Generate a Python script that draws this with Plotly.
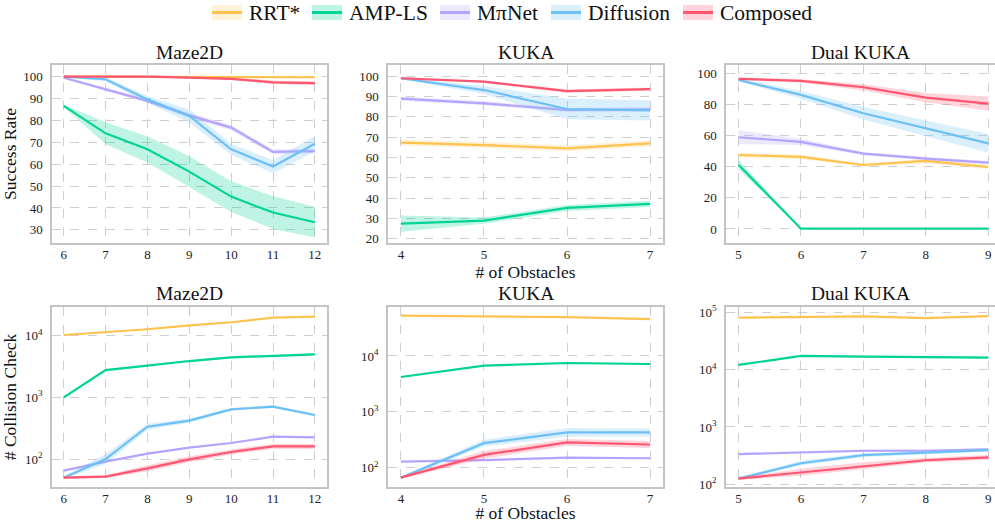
import plotly.graph_objects as go

# ---------------- data ----------------
methods = ["RRT*", "AMP-LS", "M\u03c0Net", "Diffusion", "Composed"]
line_colors = ["#FFC24F", "#00D494", "#B5A3FF", "#6CC0F5", "#FF5570"]
fill_colors = ["rgba(255,194,79,0.22)", "rgba(0,212,148,0.25)", "rgba(181,163,255,0.25)",
               "rgba(108,192,245,0.25)", "rgba(255,85,112,0.25)"]

x_maze = [6, 7, 8, 9, 10, 11, 12]
x_kuka = [4, 5, 6, 7]
x_dual = [5, 6, 7, 8, 9]

# Success rate (%)
sr_maze_rrt = [100, 100, 100, 99.8, 99.8, 99.7, 99.7]
sr_maze_amp = [86.6, 74.1, 66.8, 56.6, 45.2, 37.9, 33.5]
sr_maze_mpi = [99.5, 94.2, 88.9, 82.3, 76.7, 65.6, 66.0]
sr_maze_dif = [100, 98.8, 89.6, 82.0, 66.8, 58.9, 69.3]
sr_maze_cmp = [100, 100, 100, 99.5, 99.0, 97.4, 97.0]

sr_kuka_rrt = [67.3, 66.1, 64.5, 66.9]
sr_kuka_amp = [27.5, 29.0, 35.2, 37.2]
sr_kuka_mpi = [88.9, 86.6, 83.3, 83.6]
sr_kuka_dif = [98.9, 93.1, 83.8, 83.1]
sr_kuka_cmp = [98.9, 97.2, 92.6, 93.6]

sr_dual_rrt = [47.5, 46.3, 41.1, 43.7, 39.8]
sr_dual_amp = [41.3, 0.2, 0.2, 0.2, 0.2]
sr_dual_mpi = [58.9, 55.9, 48.4, 45.2, 42.6]
sr_dual_dif = [95.7, 86.1, 74.3, 64.7, 55.0]
sr_dual_cmp = [96.4, 95.1, 91.0, 84.4, 80.5]

# Success rate band half-widths
sr_maze_rrt_err = [0.1, 0.1, 0.1, 0.2, 0.2, 0.3, 0.3]
sr_maze_amp_err = [0.5, 5.0, 6.0, 7.0, 7.0, 7.5, 7.0]
sr_maze_mpi_err = [0.5, 0.8, 1.0, 1.2, 1.2, 1.2, 1.0]
sr_maze_dif_err = [0.3, 1.0, 1.5, 3.0, 2.5, 3.0, 3.5]
sr_maze_cmp_err = [0.2, 0.2, 0.2, 0.3, 0.5, 0.8, 0.8]

sr_kuka_rrt_err = [1.5, 1.5, 1.5, 1.5]
sr_kuka_amp_err = [4.0, 1.5, 1.5, 1.5]
sr_kuka_mpi_err = [1.0, 1.0, 1.0, 1.0]
sr_kuka_dif_err = [0.5, 2.0, 5.0, 5.0]
sr_kuka_cmp_err = [0.5, 0.5, 0.8, 0.8]

sr_dual_rrt_err = [1.5, 1.5, 1.0, 1.5, 1.5]
sr_dual_amp_err = [3.0, 0.3, 0.3, 0.3, 0.3]
sr_dual_mpi_err = [4.5, 2.0, 1.0, 1.0, 1.0]
sr_dual_dif_err = [1.0, 2.5, 4.0, 5.0, 6.0]
sr_dual_cmp_err = [0.8, 1.0, 2.0, 3.0, 4.5]

# Collision checks
cc_maze_rrt = [10250, 11300, 12700, 14700, 16500, 19600, 20300]
cc_maze_amp = [1000, 2770, 3260, 3880, 4450, 4740, 4980]
cc_maze_mpi = [64.7, 90.5, 122, 153, 182, 230, 225]
cc_maze_dif = [49.8, 100, 334, 419, 639, 706, 517]
cc_maze_cmp = [49.8, 51.8, 70.6, 98.8, 130, 160, 160]

cc_kuka_rrt = [52600, 50500, 49800, 45800]
cc_kuka_amp = [4190, 6700, 7480, 7180]
cc_kuka_mpi = [128, 136, 151, 147]
cc_kuka_dif = [66, 274, 427, 427]
cc_kuka_cmp = [66, 169, 282, 259]

cc_dual_rrt = [80600, 81600, 85100, 79500, 86200]
cc_dual_amp = [12080, 17380, 16900, 16450, 16230]
cc_dual_mpi = [336, 355, 385, 385, 406]
cc_dual_dif = [126, 233, 323, 359, 395]
cc_dual_cmp = [126, 162, 210, 263, 294]

# Collision band relative half-widths
cc_maze_rrt_err = [0.02] * 7
cc_maze_amp_err = [0.04] * 7
cc_maze_mpi_err = [0.03] * 7
cc_maze_dif_err = [0.05, 0.2, 0.12, 0.08, 0.05, 0.05, 0.05]
cc_maze_cmp_err = [0.05, 0.05, 0.12, 0.12, 0.1, 0.1, 0.1]

cc_kuka_rrt_err = [0.02] * 4
cc_kuka_amp_err = [0.03] * 4
cc_kuka_mpi_err = [0.03] * 4
cc_kuka_dif_err = [0.05, 0.15, 0.2, 0.18]
cc_kuka_cmp_err = [0.05, 0.18, 0.15, 0.15]

cc_dual_rrt_err = [0.03] * 5
cc_dual_amp_err = [0.04] * 5
cc_dual_mpi_err = [0.05] * 5
cc_dual_dif_err = [0.05, 0.1, 0.08, 0.06, 0.06]
cc_dual_cmp_err = [0.05, 0.15, 0.15, 0.1, 0.1]

titles = ["Maze2D", "KUKA", "Dual KUKA"]

panels = [
    (1, 1, x_maze, [sr_maze_rrt, sr_maze_amp, sr_maze_mpi, sr_maze_dif, sr_maze_cmp],
     [sr_maze_rrt_err, sr_maze_amp_err, sr_maze_mpi_err, sr_maze_dif_err, sr_maze_cmp_err], False),
    (1, 2, x_kuka, [sr_kuka_rrt, sr_kuka_amp, sr_kuka_mpi, sr_kuka_dif, sr_kuka_cmp],
     [sr_kuka_rrt_err, sr_kuka_amp_err, sr_kuka_mpi_err, sr_kuka_dif_err, sr_kuka_cmp_err], False),
    (1, 3, x_dual, [sr_dual_rrt, sr_dual_amp, sr_dual_mpi, sr_dual_dif, sr_dual_cmp],
     [sr_dual_rrt_err, sr_dual_amp_err, sr_dual_mpi_err, sr_dual_dif_err, sr_dual_cmp_err], False),
    (2, 1, x_maze, [cc_maze_rrt, cc_maze_amp, cc_maze_mpi, cc_maze_dif, cc_maze_cmp],
     [cc_maze_rrt_err, cc_maze_amp_err, cc_maze_mpi_err, cc_maze_dif_err, cc_maze_cmp_err], True),
    (2, 2, x_kuka, [cc_kuka_rrt, cc_kuka_amp, cc_kuka_mpi, cc_kuka_dif, cc_kuka_cmp],
     [cc_kuka_rrt_err, cc_kuka_amp_err, cc_kuka_mpi_err, cc_kuka_dif_err, cc_kuka_cmp_err], True),
    (2, 3, x_dual, [cc_dual_rrt, cc_dual_amp, cc_dual_mpi, cc_dual_dif, cc_dual_cmp],
     [cc_dual_rrt_err, cc_dual_amp_err, cc_dual_mpi_err, cc_dual_dif_err, cc_dual_cmp_err], True),
]

# ---------------- layout geometry ----------------
W, H = 995, 523
FONT = "Liberation Serif, Times New Roman, serif"
col_px = [(52, 327), (388, 663), (726, 995)]
row_px = [(65, 243), (307, 487)]
title_y_px = [52, 293]
legend_x_px = [212, 312, 440, 551, 683]
legend_y_px = 12.5

x_ranges = [[5.72, 12.29], [3.845, 7.155], [4.8, 9.107]]
y_ranges = {
    (1, 1): [24.0, 105.3], (1, 2): [18.0, 105.4], (1, 3): [-9.0, 105.3],
    (2, 1): [1.546, 4.465], (2, 2): [1.652, 4.877], (2, 3): [1.953, 5.093],
}
y_ticks = {
    (1, 1): [30, 40, 50, 60, 70, 80, 90, 100],
    (1, 2): [20, 30, 40, 50, 60, 70, 80, 90, 100],
    (1, 3): [0, 20, 40, 60, 80, 100],
    (2, 1): [100, 1000, 10000],
    (2, 2): [100, 1000, 10000],
    (2, 3): [100, 1000, 10000, 100000],
}
pow_text = {100: "10<sup>2</sup>", 1000: "10<sup>3</sup>", 10000: "10<sup>4</sup>", 100000: "10<sup>5</sup>"}

fig = go.Figure()
layout = {}
annotations = []
shapes = []

for idx, (r, c, xs, series, errs, islog) in enumerate(panels):
    n = idx + 1
    xa = "x" if n == 1 else f"x{n}"
    ya = "y" if n == 1 else f"y{n}"
    for m in range(5):
        ys = series[m]
        es = errs[m]
        if islog:
            up = [v * (1 + e) for v, e in zip(ys, es)]
            lo = [v / (1 + e) for v, e in zip(ys, es)]
        else:
            up = [v + e for v, e in zip(ys, es)]
            lo = [v - e for v, e in zip(ys, es)]
        fig.add_trace(go.Scatter(
            x=list(xs) + list(xs)[::-1], y=up + lo[::-1], xaxis=xa, yaxis=ya,
            fill="toself", fillcolor=fill_colors[m], line=dict(width=0),
            mode="lines", hoverinfo="skip", showlegend=False))
        fig.add_trace(go.Scatter(
            x=xs, y=ys, xaxis=xa, yaxis=ya, mode="lines", name=methods[m],
            line=dict(color=line_colors[m], width=2.2), showlegend=False))

    x0, x1 = col_px[c - 1]
    y0, y1 = row_px[r - 1]
    xkey = "xaxis" if n == 1 else f"xaxis{n}"
    ykey = "yaxis" if n == 1 else f"yaxis{n}"
    axis_common = dict(
        showgrid=True, gridcolor="#cfcfcf", griddash="dash", gridwidth=1,
        showline=True, mirror=True, linecolor="#c4c4c4", linewidth=1.5,
        zeroline=False, automargin=False, ticks="", ticklabeloverflow="allow",
        tickfont=dict(family=FONT, size=13, color="#222"),
    )
    xaxis = dict(axis_common, domain=[x0 / W, x1 / W], range=x_ranges[c - 1],
                 tickmode="array", tickvals=xs, anchor=ya, ticklabelstandoff=-1)
    if c == 2:
        xaxis["title"] = dict(text="# of Obstacles", font=dict(family=FONT, size=17.5, color="#111"),
                              standoff=4)
    yaxis = dict(axis_common, domain=[1 - y1 / H, 1 - y0 / H], range=y_ranges[(r, c)],
                 anchor=xa, tickmode="array", tickvals=y_ticks[(r, c)], ticklabelstandoff=5)
    if islog:
        yaxis["type"] = "log"
        yaxis["ticktext"] = [pow_text[v] for v in y_ticks[(r, c)]]
    if c == 1:
        yaxis["title"] = dict(text="Success Rate" if r == 1 else "# Collision Check",
                              font=dict(family=FONT, size=17.5, color="#111"), standoff=6)
    layout[xkey] = xaxis
    layout[ykey] = yaxis

    annotations.append(dict(
        text=titles[c - 1], x=(x0 + x1) / 2 / W, y=1 - title_y_px[r - 1] / H,
        xref="paper", yref="paper", xanchor="center", yanchor="middle", showarrow=False,
        font=dict(family=FONT, size=19.5, color="#111")))

# legend: light band patch with the line through it, then the label
for m in range(5):
    lx = legend_x_px[m]
    shapes.append(dict(type="rect", xref="paper", yref="paper",
                       x0=lx / W, x1=(lx + 30) / W,
                       y0=1 - (legend_y_px + 7.5) / H, y1=1 - (legend_y_px - 7.5) / H,
                       fillcolor=fill_colors[m], line=dict(width=0), layer="above"))
    shapes.append(dict(type="line", xref="paper", yref="paper",
                       x0=lx / W, x1=(lx + 30) / W,
                       y0=1 - legend_y_px / H, y1=1 - legend_y_px / H,
                       line=dict(color=line_colors[m], width=3), layer="above"))
    annotations.append(dict(
        text=methods[m], x=(lx + 35) / W, y=1 - (legend_y_px + 0.5) / H,
        xref="paper", yref="paper", xanchor="left", yanchor="middle", showarrow=False,
        font=dict(family=FONT, size=21.5, color="#111")))

fig.update_layout(
    **layout,
    annotations=annotations,
    shapes=shapes,
    width=W, height=H,
    margin=dict(l=0, r=0, t=0, b=0),
    paper_bgcolor="white", plot_bgcolor="white",
    font=dict(family=FONT, color="#111"),
    showlegend=False,
)

fig.write_html("out.html", config={"displayModeBar": False},
               post_script="document.body.style.margin='0';")
